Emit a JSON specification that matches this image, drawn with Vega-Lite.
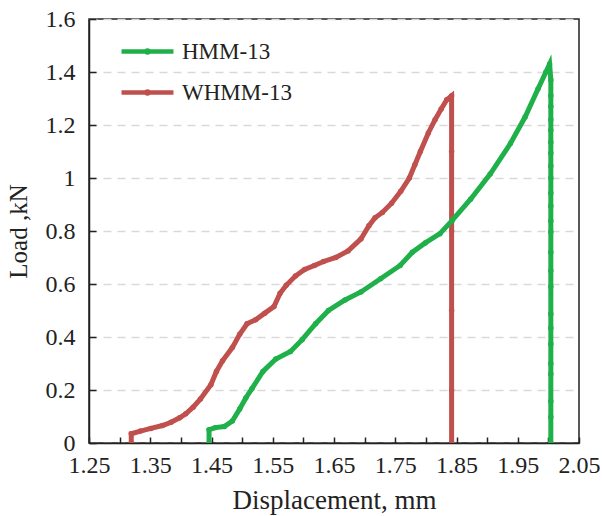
{
  "$schema": "https://vega.github.io/schema/vega-lite/v6.json",
  "width": 490,
  "height": 424,
  "autosize": "none",
  "padding": {"left": 89, "top": 19, "right": 23, "bottom": 73},
  "background": "white",
  "config": {
    "font": "Liberation Serif",
    "view": {"stroke": "#222222", "strokeWidth": 1.5},
    "axis": {"labelFont": "Liberation Serif", "titleFont": "Liberation Serif", "labelColor": "#222", "titleColor": "#222", "titleFontWeight": "normal"}
  },
  "data": {"values": [
    {"s":"WHMM-13","i":1,"x":1.319,"y":0},
    {"s":"WHMM-13","i":2,"x":1.319,"y":0.035},
    {"s":"WHMM-13","i":3,"x":1.334,"y":0.045},
    {"s":"WHMM-13","i":4,"x":1.351,"y":0.055},
    {"s":"WHMM-13","i":5,"x":1.37,"y":0.066},
    {"s":"WHMM-13","i":6,"x":1.384,"y":0.078},
    {"s":"WHMM-13","i":7,"x":1.398,"y":0.095},
    {"s":"WHMM-13","i":8,"x":1.408,"y":0.11},
    {"s":"WHMM-13","i":9,"x":1.42,"y":0.135},
    {"s":"WHMM-13","i":10,"x":1.432,"y":0.166},
    {"s":"WHMM-13","i":11,"x":1.449,"y":0.22},
    {"s":"WHMM-13","i":12,"x":1.458,"y":0.27},
    {"s":"WHMM-13","i":13,"x":1.468,"y":0.31},
    {"s":"WHMM-13","i":14,"x":1.484,"y":0.36},
    {"s":"WHMM-13","i":15,"x":1.496,"y":0.41},
    {"s":"WHMM-13","i":16,"x":1.508,"y":0.45},
    {"s":"WHMM-13","i":17,"x":1.522,"y":0.465},
    {"s":"WHMM-13","i":18,"x":1.537,"y":0.49},
    {"s":"WHMM-13","i":19,"x":1.552,"y":0.515},
    {"s":"WHMM-13","i":20,"x":1.562,"y":0.565},
    {"s":"WHMM-13","i":21,"x":1.572,"y":0.595},
    {"s":"WHMM-13","i":22,"x":1.587,"y":0.63},
    {"s":"WHMM-13","i":23,"x":1.602,"y":0.655},
    {"s":"WHMM-13","i":24,"x":1.618,"y":0.67},
    {"s":"WHMM-13","i":25,"x":1.633,"y":0.685},
    {"s":"WHMM-13","i":26,"x":1.653,"y":0.7},
    {"s":"WHMM-13","i":27,"x":1.673,"y":0.725},
    {"s":"WHMM-13","i":28,"x":1.694,"y":0.77},
    {"s":"WHMM-13","i":29,"x":1.707,"y":0.82},
    {"s":"WHMM-13","i":30,"x":1.717,"y":0.85},
    {"s":"WHMM-13","i":31,"x":1.729,"y":0.87},
    {"s":"WHMM-13","i":32,"x":1.744,"y":0.905},
    {"s":"WHMM-13","i":33,"x":1.759,"y":0.95},
    {"s":"WHMM-13","i":34,"x":1.773,"y":1.0},
    {"s":"WHMM-13","i":35,"x":1.782,"y":1.05},
    {"s":"WHMM-13","i":36,"x":1.791,"y":1.1},
    {"s":"WHMM-13","i":37,"x":1.804,"y":1.17},
    {"s":"WHMM-13","i":38,"x":1.815,"y":1.22},
    {"s":"WHMM-13","i":39,"x":1.825,"y":1.26},
    {"s":"WHMM-13","i":40,"x":1.834,"y":1.295},
    {"s":"WHMM-13","i":41,"x":1.842,"y":1.31},
    {"s":"WHMM-13","i":42,"x":1.842,"y":1.1},
    {"s":"WHMM-13","i":43,"x":1.842,"y":0.8},
    {"s":"WHMM-13","i":44,"x":1.842,"y":0.5},
    {"s":"WHMM-13","i":45,"x":1.842,"y":0.2},
    {"s":"WHMM-13","i":46,"x":1.842,"y":0},
    {"s":"HMM-13","i":1,"x":1.446,"y":0},
    {"s":"HMM-13","i":2,"x":1.446,"y":0.05},
    {"s":"HMM-13","i":3,"x":1.456,"y":0.058},
    {"s":"HMM-13","i":4,"x":1.471,"y":0.062},
    {"s":"HMM-13","i":5,"x":1.484,"y":0.083},
    {"s":"HMM-13","i":6,"x":1.496,"y":0.128},
    {"s":"HMM-13","i":7,"x":1.506,"y":0.17},
    {"s":"HMM-13","i":8,"x":1.516,"y":0.205},
    {"s":"HMM-13","i":9,"x":1.534,"y":0.27},
    {"s":"HMM-13","i":10,"x":1.555,"y":0.317},
    {"s":"HMM-13","i":11,"x":1.579,"y":0.345},
    {"s":"HMM-13","i":12,"x":1.598,"y":0.39},
    {"s":"HMM-13","i":13,"x":1.62,"y":0.45},
    {"s":"HMM-13","i":14,"x":1.641,"y":0.5},
    {"s":"HMM-13","i":15,"x":1.668,"y":0.54},
    {"s":"HMM-13","i":16,"x":1.694,"y":0.57},
    {"s":"HMM-13","i":17,"x":1.726,"y":0.62},
    {"s":"HMM-13","i":18,"x":1.758,"y":0.67},
    {"s":"HMM-13","i":19,"x":1.778,"y":0.72},
    {"s":"HMM-13","i":20,"x":1.799,"y":0.755},
    {"s":"HMM-13","i":21,"x":1.823,"y":0.79},
    {"s":"HMM-13","i":22,"x":1.843,"y":0.84},
    {"s":"HMM-13","i":23,"x":1.873,"y":0.92},
    {"s":"HMM-13","i":24,"x":1.905,"y":1.015},
    {"s":"HMM-13","i":25,"x":1.938,"y":1.13},
    {"s":"HMM-13","i":26,"x":1.962,"y":1.23},
    {"s":"HMM-13","i":27,"x":1.983,"y":1.336},
    {"s":"HMM-13","i":28,"x":1.996,"y":1.4},
    {"s":"HMM-13","i":29,"x":2.002,"y":1.43},
    {"s":"HMM-13","i":30,"x":2.004,"y":1.37},
    {"s":"HMM-13","i":31,"x":2.004,"y":1.31},
    {"s":"HMM-13","i":32,"x":2.004,"y":1.27},
    {"s":"HMM-13","i":33,"x":2.004,"y":1.22},
    {"s":"HMM-13","i":34,"x":2.004,"y":1.18},
    {"s":"HMM-13","i":35,"x":2.004,"y":1.135},
    {"s":"HMM-13","i":36,"x":2.004,"y":1.094},
    {"s":"HMM-13","i":37,"x":2.004,"y":1.045},
    {"s":"HMM-13","i":38,"x":2.004,"y":1.0},
    {"s":"HMM-13","i":39,"x":2.004,"y":0.943},
    {"s":"HMM-13","i":40,"x":2.004,"y":0.894},
    {"s":"HMM-13","i":41,"x":2.004,"y":0.838},
    {"s":"HMM-13","i":42,"x":2.004,"y":0.796},
    {"s":"HMM-13","i":43,"x":2.004,"y":0.72},
    {"s":"HMM-13","i":44,"x":2.004,"y":0.65},
    {"s":"HMM-13","i":45,"x":2.004,"y":0.59},
    {"s":"HMM-13","i":46,"x":2.004,"y":0.487},
    {"s":"HMM-13","i":47,"x":2.004,"y":0.434},
    {"s":"HMM-13","i":48,"x":2.004,"y":0.374},
    {"s":"HMM-13","i":49,"x":2.004,"y":0.3},
    {"s":"HMM-13","i":50,"x":2.004,"y":0.26},
    {"s":"HMM-13","i":51,"x":2.004,"y":0.158},
    {"s":"HMM-13","i":52,"x":2.004,"y":0.098},
    {"s":"HMM-13","i":53,"x":2.004,"y":0}
  ]},
  "encoding": {
    "x": {"field": "x", "type": "quantitative", "scale": {"domain": [1.25, 2.05], "nice": false, "zero": false},
      "axis": {"title": "Displacement, mm", "values": [1.25,1.3,1.35,1.4,1.45,1.5,1.55,1.6,1.65,1.7,1.75,1.8,1.85,1.9,1.95,2.0,2.05],
        "labelExpr": "round(datum.value*100) % 10 == 5 ? format(datum.value, '.2f') : ''",
        "grid": false, "domainColor": "#222", "domainWidth": 1.5, "tickColor": "#222", "tickWidth": 1.5, "tickSize": -6,
        "labelFontSize": 24, "titleFontSize": 27, "labelPadding": 16, "titlePadding": 10, "labelFlush": false, "labelOverlap": false}},
    "y": {"field": "y", "type": "quantitative", "scale": {"domain": [0, 1.6], "nice": false},
      "axis": {"title": "Load ,kN", "values": [0,0.2,0.4,0.6,0.8,1,1.2,1.4,1.6], "format": "~g", "grid": true, "gridDash": [8, 6], "gridColor": "#d9d9d9", "gridWidth": 1.5,
        "domainColor": "#222", "domainWidth": 1.5, "tickColor": "#222", "tickWidth": 1.5, "tickSize": -7,
        "labelFontSize": 24, "titleFontSize": 25, "labelPadding": 21, "titlePadding": 14, "labelFlush": false, "labelOverlap": false}},
    "color": {"field": "s", "type": "nominal", "scale": {"domain": ["HMM-13", "WHMM-13"], "range": ["#1fb04a", "#c0504d"]},
      "legend": {"title": null, "orient": "none", "legendX": 30, "legendY": 4,
        "symbolType": "M-1,0H1M-0.04,0A0.04,0.04 0 1,1 0.04,0A0.04,0.04 0 1,1 -0.04,0", "symbolSize": 2700, "symbolStrokeWidth": 4.5,
        "labelFontSize": 23, "labelColor": "#222", "rowPadding": -8, "labelOffset": 6}},
    "order": {"field": "i", "type": "quantitative"}
  },
  "layer": [
    {"mark": {"type": "line", "strokeWidth": 5, "clip": true}},
    {"mark": {"type": "point", "filled": true, "size": 30, "opacity": 1, "clip": true}}
  ]
}
